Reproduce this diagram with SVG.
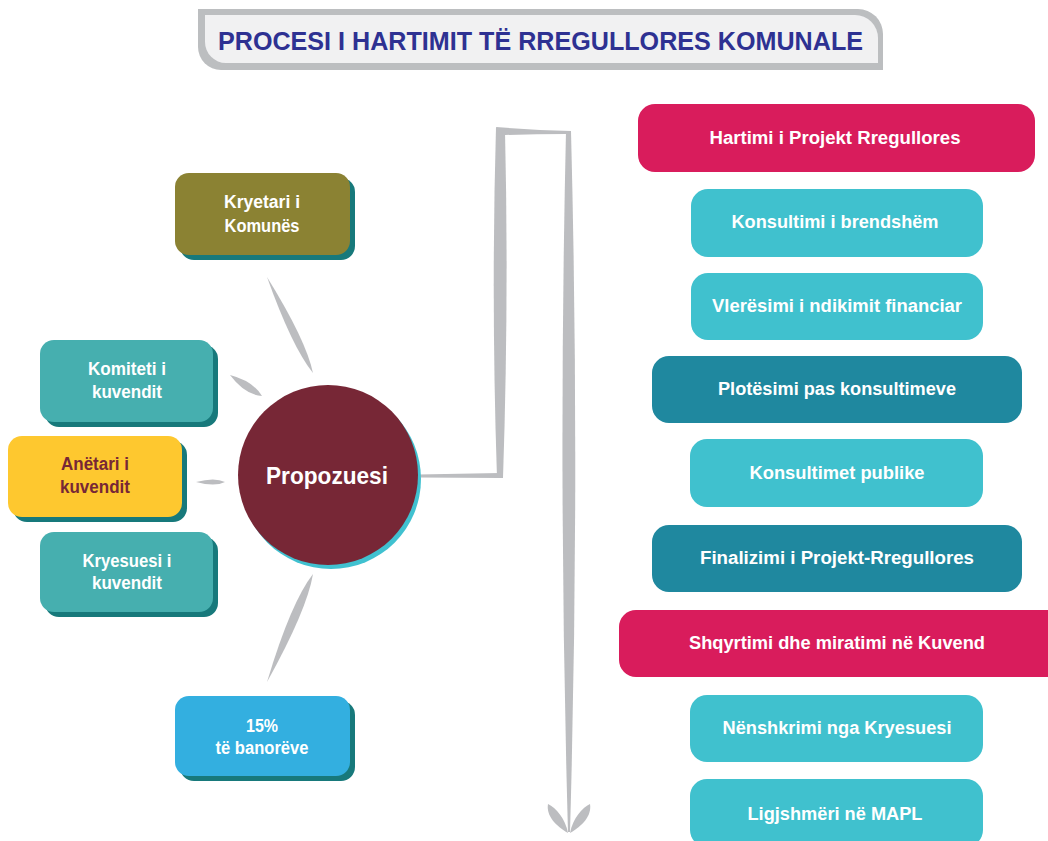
<svg xmlns="http://www.w3.org/2000/svg" width="1048" height="841" viewBox="0 0 1048 841">
<style>
.t{font-family:"Liberation Sans",Arial,sans-serif;font-weight:bold;text-anchor:middle;fill:#fff}
.rt{font-size:18px}
.lt{font-size:17.5px}
.gray{fill:#bcbdc0}
.sh{fill:#17797b}
.crim{fill:#d91c5c}
.cyan{fill:#40c1ce}
.dteal{fill:#1f889f}
.teal{fill:#46afaf}
</style>
<rect width="1048" height="841" fill="#fff"/>
<g id="title">
<path d="M198,9 H858 A25,25 0 0 1 883,34 V70 H221 A23,23 0 0 1 198,47 Z" fill="#bcbec0"/>
<path d="M205,15 H855 A23,23 0 0 1 878,38 V63 H226 A21,21 0 0 1 205,42 Z" fill="#f1f1f2"/>
<text x="540.5" y="50" font-family="Liberation Sans,Arial,sans-serif" font-weight="bold" font-size="25" fill="#2e3192" text-anchor="middle" textLength="645" lengthAdjust="spacingAndGlyphs">PROCESI I HARTIMIT TË RREGULLORES KOMUNALE</text>
</g>
<g id="connectors" class="gray">
<path d="M267,277 Q306,340 313,373 Q292,347 267,277 Z"/>
<path d="M230,375 Q253,381 262,396 Q245,395 230,375 Z"/>
<path d="M196,482 Q215,477 225,482 Q215,487 196,482 Z"/>
<path d="M313,574 Q307,610 267,682 Q291,602 313,574 Z"/>
<path d="M418,474.5 L500,473 L500,478 L418,477.5 Z"/>
<path d="M496,127 Q491,300 497,478 L503,478 Q509,300 505,131 Z"/>
<path d="M496,127 Q535,130 571,131 L566,134 Q535,134 505,135 Z"/>
<path d="M566,131 L571,131 Q580,480 570,832 L568,832 Q558,480 566,131 Z"/>
<path d="M568,833 C556,826 546,816 548,804 C556,808 565,818 568,833 Z"/>
<path d="M570,833 C582,826 592,816 590,804 C582,808 573,818 570,833 Z"/>
</g>
<g id="propozuesi">
<circle cx="331" cy="479" r="90" fill="#40c1d0"/>
<circle cx="328" cy="475" r="90" fill="#772736"/>
<text class="t" x="327" y="484" font-size="24" textLength="122" lengthAdjust="spacingAndGlyphs">Propozuesi</text>
</g>
<g id="kryetari">
<rect class="sh" x="180" y="178" width="175" height="82" rx="14"/>
<rect x="175" y="173" width="175" height="82" rx="14" fill="#8b8233"/>
<text class="t lt" x="262" y="208" textLength="76" lengthAdjust="spacingAndGlyphs">Kryetari i</text>
<text class="t lt" x="262" y="232" textLength="75" lengthAdjust="spacingAndGlyphs">Komunës</text>
</g>
<g id="komiteti">
<rect class="sh" x="45" y="345" width="173" height="82" rx="14"/>
<rect class="teal" x="40" y="340" width="173" height="82" rx="14"/>
<text class="t lt" x="127" y="375" textLength="78" lengthAdjust="spacingAndGlyphs">Komiteti i</text>
<text class="t lt" x="127" y="398" textLength="70" lengthAdjust="spacingAndGlyphs">kuvendit</text>
</g>
<g id="anetari">
<rect class="sh" x="13" y="441" width="174" height="81" rx="14"/>
<rect x="8" y="436" width="174" height="81" rx="14" fill="#fec82f"/>
<text class="t lt" x="95" y="470" fill="#772736" style="fill:#772736" textLength="68" lengthAdjust="spacingAndGlyphs">Anëtari i</text>
<text class="t lt" x="95" y="493" style="fill:#772736" textLength="70" lengthAdjust="spacingAndGlyphs">kuvendit</text>
</g>
<g id="kryesuesi">
<rect class="sh" x="45" y="537" width="173" height="80" rx="14"/>
<rect class="teal" x="40" y="532" width="173" height="80" rx="14"/>
<text class="t lt" x="127" y="567" textLength="89" lengthAdjust="spacingAndGlyphs">Kryesuesi i</text>
<text class="t lt" x="127" y="589" textLength="70" lengthAdjust="spacingAndGlyphs">kuvendit</text>
</g>
<g id="banoret">
<rect class="sh" x="180" y="701" width="175" height="80" rx="14"/>
<rect x="175" y="696" width="175" height="80" rx="14" fill="#33afe0"/>
<text class="t lt" x="262" y="732" textLength="32" lengthAdjust="spacingAndGlyphs">15%</text>
<text class="t lt" x="262" y="754" textLength="93" lengthAdjust="spacingAndGlyphs">të banorëve</text>
</g>
<g id="s1"><rect class="crim" x="638" y="104" width="397" height="68" rx="17"/><text class="t rt" x="835" y="144" textLength="251" lengthAdjust="spacingAndGlyphs">Hartimi i Projekt Rregullores</text></g>
<g id="s2"><rect class="cyan" x="691" y="189" width="292" height="68" rx="17"/><text class="t rt" x="835" y="228" textLength="207" lengthAdjust="spacingAndGlyphs">Konsultimi i brendshëm</text></g>
<g id="s3"><rect class="cyan" x="691" y="273" width="292" height="67" rx="17"/><text class="t rt" x="837" y="312" textLength="250" lengthAdjust="spacingAndGlyphs">Vlerësimi i ndikimit financiar</text></g>
<g id="s4"><rect class="dteal" x="652" y="356" width="370" height="67" rx="17"/><text class="t rt" x="837" y="395" textLength="238" lengthAdjust="spacingAndGlyphs">Plotësimi pas konsultimeve</text></g>
<g id="s5"><rect class="cyan" x="690" y="439" width="293" height="68" rx="17"/><text class="t rt" x="837" y="479" textLength="175" lengthAdjust="spacingAndGlyphs">Konsultimet publike</text></g>
<g id="s6"><rect class="dteal" x="652" y="525" width="370" height="67" rx="17"/><text class="t rt" x="837" y="564" textLength="274" lengthAdjust="spacingAndGlyphs">Finalizimi i Projekt-Rregullores</text></g>
<g id="s7"><rect class="crim" x="619" y="610" width="450" height="67" rx="17"/><text class="t rt" x="837" y="649" textLength="296" lengthAdjust="spacingAndGlyphs">Shqyrtimi dhe miratimi në Kuvend</text></g>
<g id="s8"><rect class="cyan" x="690" y="695" width="293" height="67" rx="17"/><text class="t rt" x="837" y="734" textLength="229" lengthAdjust="spacingAndGlyphs">Nënshkrimi nga Kryesuesi</text></g>
<g id="s9"><rect class="cyan" x="690" y="779" width="293" height="68" rx="17"/><text class="t rt" x="835" y="820" textLength="175" lengthAdjust="spacingAndGlyphs">Ligjshmëri në MAPL</text></g>
</svg>
